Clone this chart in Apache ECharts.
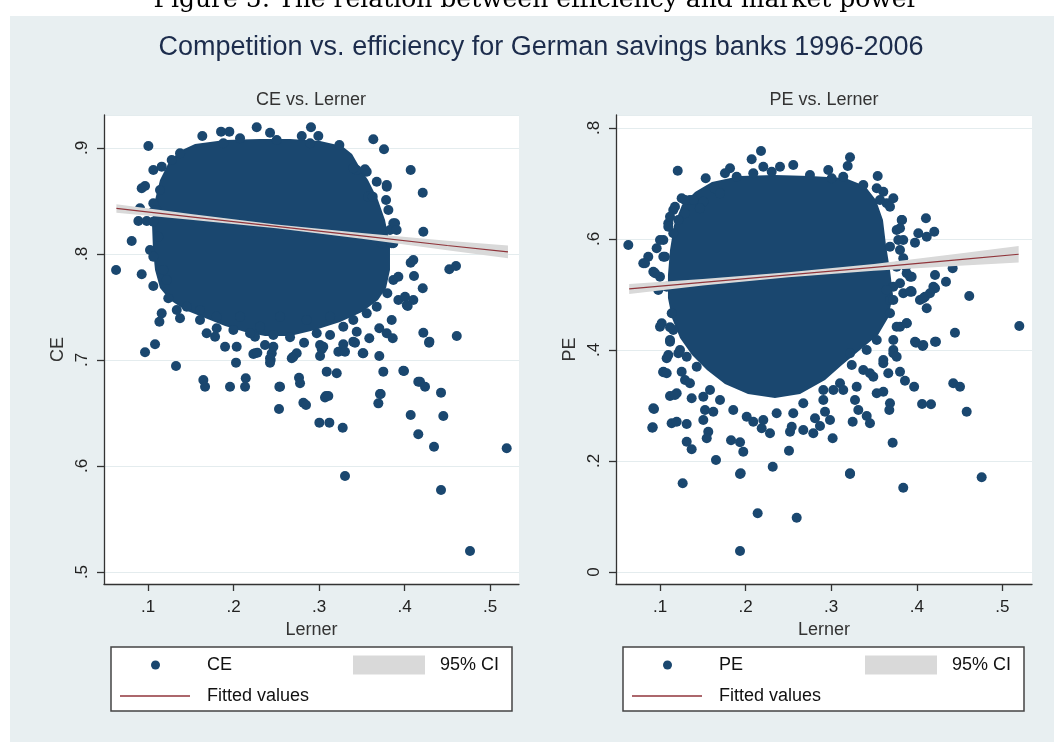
<!DOCTYPE html>
<html>
<head>
<meta charset="utf-8">
<title>Competition vs. efficiency for German savings banks 1996-2006</title>
<script src="https://cdn.jsdelivr.net/npm/echarts@6/dist/echarts.min.js"></script>
<style>
  html, body { margin: 0; padding: 0; background: #fff; }
  #chart { width: 1054px; height: 742px; }
</style>
</head>
<body>
<div id="chart"></div>
<script>
// Lerner index vs. cost efficiency (CE) and profit efficiency (PE)
// outer / sparse points; the solid centre of each cloud is an outline
const cePoints = [
  [0.1004,0.9019],[0.1635,0.9113],[0.1854,0.9154],[0.1951,0.9154],[0.1881,0.9044],[0.2076,0.9091],
  [0.2271,0.9195],[0.2427,0.9144],[0.2505,0.9075],[0.2798,0.9113],[0.2906,0.9195],[0.2992,0.9113],
  [0.2895,0.9044],[0.3238,0.9028],[0.3635,0.9082],[0.3760,0.8988],[0.4072,0.8792],[0.4213,0.8578],
  [0.1062,0.8792],[0.1160,0.8824],[0.0926,0.8620],[0.0965,0.8642],[0.1140,0.8604],[0.0906,0.8431],
  [0.0887,0.8311],[0.0985,0.8311],[0.0809,0.8123],[0.1062,0.8400],[0.1062,0.8305],[0.1062,0.8478],
  [0.1102,0.8415],[0.1120,0.8163],[0.1023,0.8038],[0.1062,0.7975],[0.1179,0.7849],[0.1219,0.7755],
  [0.1277,0.8887],[0.1374,0.8950],
  [0.3441,0.8792],[0.3558,0.8776],[0.3675,0.8682],[0.3792,0.8635],[0.3577,0.8541],[0.3784,0.8509],
  [0.3811,0.8415],[0.3869,0.8290],[0.3830,0.8226],[0.3733,0.8101],[0.3869,0.8101],[0.3792,0.8651],
  [0.3889,0.8290],[0.3908,0.8226],[0.3538,0.8799],[0.3401,0.8808],[0.3628,0.8541],[0.3850,0.8101],
  [0.4220,0.8210],[0.4524,0.7856],[0.4602,0.7887],[0.4213,0.7676],[0.4037,0.7510],[0.4220,0.7257],
  [0.4291,0.7173],[0.4611,0.7226],
  [0.0626,0.7849],[0.0926,0.7808],[0.1062,0.7698],[0.1160,0.7440],[0.1133,0.7361],[0.1082,0.7148],
  [0.0965,0.7073],[0.1327,0.6943],[0.1647,0.6811],[0.1667,0.6748],[0.1959,0.6748],[0.2143,0.6827],
  [0.2135,0.6748],[0.2029,0.6975],[0.2544,0.6748],[0.2766,0.6833],[0.2778,0.6780],[0.3090,0.6890],
  [0.3207,0.6875],[0.3082,0.6660],[0.3752,0.6890],[0.3986,0.6899],[0.3721,0.6679],[0.4161,0.6795],
  [0.4103,0.7943],[0.4072,0.7918],[0.4111,0.7792],[0.3869,0.7755],[0.3928,0.7786],[0.3799,0.7629],
  [0.3928,0.7566],[0.4006,0.7597],[0.4103,0.7566],[0.4026,0.7519],[0.3850,0.7377],[0.3705,0.7299],
  [0.3792,0.7252],[0.3862,0.7205],[0.3588,0.7205],[0.3441,0.7267],[0.3401,0.7173],[0.3518,0.7063],
  [0.3705,0.7038],[0.3284,0.7148],[0.3226,0.7078],[0.3032,0.7101],[0.3012,0.7038],[0.2700,0.7031],
  [0.2739,0.7063],[0.2435,0.7000],[0.2447,0.7063],[0.2251,0.7063],[0.2661,0.7214],[0.2825,0.7163],
  [0.1803,0.7299],[0.1784,0.7220],[0.1901,0.7125],[0.2037,0.7125],[0.1686,0.7252],[0.1608,0.7377],
  [0.1374,0.7393],[0.1237,0.7582],[0.1336,0.7472],[0.2251,0.7220],[0.2193,0.7252],[0.2466,0.7125],
  [0.2368,0.7142],[0.3012,0.7142],[0.3129,0.7236],
  [0.2232,0.7057],[0.2279,0.7069],[0.2427,0.7016],[0.2427,0.6975],[0.2536,0.6748],[0.2532,0.6538],
  [0.2681,0.7016],[0.2817,0.6597],[0.2848,0.6575],[0.3004,0.6409],[0.3121,0.6409],[0.3050,0.7125],
  [0.3070,0.6647],[0.3109,0.6660],[0.3277,0.6361],[0.3304,0.5906],[0.3277,0.7094],[0.3304,0.7078],
  [0.3421,0.7163],[0.3511,0.7063],[0.3694,0.6591],[0.3713,0.6679],[0.3994,0.6896],[0.4072,0.6481],
  [0.4161,0.6299],[0.4181,0.6795],[0.4240,0.6748],[0.4287,0.7163],[0.4345,0.6182],[0.4427,0.6692],
  [0.4427,0.5774],[0.4454,0.6472],[0.4766,0.5198],[0.5195,0.6167],
  [0.2076,0.7408],[0.2310,0.7314],[0.2544,0.7408],[0.2856,0.7377],[0.3129,0.7408],[0.3284,0.7314],
  [0.3401,0.7377],[0.3558,0.7440],[0.3675,0.7503],[0.1453,0.7503],[0.1608,0.7472],[0.1803,0.7408],
  [0.1998,0.7283],[0.2973,0.7252],[0.2466,0.7236]
];
const ceCore = [
  [0.1398,0.8981],[0.1550,0.9038],[0.1901,0.9075],[0.2310,0.9085],[0.2661,0.9085],[0.3012,0.9066],
  [0.3269,0.9019],[0.3386,0.8943],[0.3480,0.8811],[0.3573,0.8698],[0.3690,0.8509],[0.3772,0.8321],
  [0.3830,0.8085],[0.3830,0.7849],[0.3784,0.7679],[0.3690,0.7566],[0.3503,0.7453],[0.3246,0.7358],
  [0.2953,0.7283],[0.2661,0.7226],[0.2368,0.7226],[0.2135,0.7264],[0.1901,0.7321],[0.1667,0.7396],
  [0.1433,0.7472],[0.1257,0.7566],[0.1140,0.7679],[0.1082,0.7849],[0.1058,0.8038],[0.1047,0.8274],
  [0.1082,0.8509],[0.1140,0.8698],[0.1257,0.8887]
];
const ceFitX = [0.063, 0.15, 0.25, 0.35, 0.45, 0.521];
const ceFit  = [0.843, 0.835, 0.826, 0.817, 0.808, 0.802];
const ceLow  = [0.839, 0.8323, 0.8243, 0.8143, 0.8035, 0.796];
const ceHigh = [0.847, 0.8377, 0.8277, 0.8197, 0.8125, 0.808];

const pePoints = [
  [0.2180,0.7586],[0.1207,0.7231],[0.1534,0.7094],[0.2071,0.7436],[0.1818,0.7274],[0.1759,0.7184],
  [0.1634,0.6914],[0.2207,0.7303],[0.2305,0.7213],[0.2402,0.7303],[0.2557,0.7333],[0.2752,0.7153],
  [0.2966,0.7243],[0.3006,0.7094],[0.3220,0.7472],[0.3193,0.7315],[0.3543,0.7135],[0.3609,0.6852],
  [0.3726,0.6733],[0.3827,0.6342],[0.4107,0.6373],[0.4018,0.6103],[0.4116,0.6041],[0.4204,0.6132],
  [0.3765,0.6162],[0.3842,0.5982],[0.3687,0.5862],[0.1896,0.7123],[0.2090,0.7184],[0.3141,0.7123],
  [0.3375,0.6973],[0.3532,0.6914],[0.3648,0.6643],[0.1701,0.6823],[0.1506,0.6672],[0.1350,0.6703],
  [0.1292,0.6463],
  [0.0630,0.5892],[0.0961,0.5832],[0.0863,0.5681],[0.0805,0.5562],[0.0922,0.5411],[0.1000,0.5321],
  [0.1058,0.5681],[0.1097,0.6283],[0.1214,0.6342],[0.1039,0.5982],[0.1155,0.6103],[0.1155,0.6523],
  [0.1253,0.6733],[0.1389,0.6703],[0.1467,0.6553],[0.1175,0.6582],[0.1292,0.6703],[0.1117,0.6402],
  [0.1097,0.6222],[0.1000,0.5982],[0.1039,0.5681],[0.0825,0.5562],[0.0942,0.5382],[0.1078,0.5141],
  [0.0980,0.5081],[0.1137,0.4661],[0.1000,0.4420],[0.1155,0.4360],[0.1117,0.4180],[0.1214,0.3940],
  [0.3940,0.5321],[0.3940,0.5050],[0.4096,0.4960],[0.4213,0.5351],[0.4194,0.5141],[0.3726,0.5141],
  [0.3842,0.5022],[0.3979,0.5934],[0.4419,0.5472],[0.4341,0.5231],[0.4213,0.5112],[0.4154,0.5022],
  [0.3932,0.5063],[0.4613,0.4973],[0.4037,0.4901],[0.4076,0.4932],[0.4116,0.4751],[0.5198,0.4432],
  [0.4446,0.4312],[0.3991,0.4132],[0.4069,0.4072],[0.4224,0.4150],[0.3882,0.4481],[0.3804,0.4420],
  [0.3687,0.4661],[0.3726,0.4000],[0.3874,0.5501],[0.3921,0.5321],[0.3648,0.5081],[0.3687,0.4901],
  [0.3570,0.6703],[0.3687,0.6582],[0.3824,0.6342],[0.3804,0.6193],[0.3784,0.5982],[0.3804,0.5802],
  [0.3842,0.5652],[0.3765,0.5501],[0.3882,0.5382],[0.3804,0.5202],[0.3921,0.5051],[0.3726,0.4901],
  [0.3765,0.4420],[0.3726,0.4180],
  [0.1020,0.4481],[0.1117,0.4409],[0.1117,0.4150],[0.1097,0.3910],[0.1078,0.3850],[0.1039,0.3609],
  [0.0922,0.2950],[0.0915,0.2607],[0.1117,0.3171],[0.1195,0.3220],[0.1136,0.2679],[0.1195,0.2708],
  [0.1312,0.2667],[0.1312,0.2348],[0.1370,0.2211],[0.1370,0.3130],[0.1292,0.3459],[0.1253,0.3609],
  [0.1526,0.2919],[0.1623,0.2889],[0.1506,0.2739],[0.1564,0.2528],[0.1546,0.2409],[0.1654,0.2018],
  [0.1830,0.2373],[0.1935,0.2337],[0.1973,0.2168],[0.1943,0.1778],[0.2317,0.1898],[0.2507,0.2186],
  [0.2285,0.2499],[0.2188,0.2589],[0.2090,0.2708],[0.2519,0.2528],[0.2539,0.2618],[0.2791,0.2499],
  [0.2674,0.2559],[0.2811,0.2769],[0.2928,0.2889],[0.2986,0.2739],[0.2869,0.2631],[0.3017,0.2409],
  [0.3220,0.1778],[0.3251,0.2708],[0.3317,0.2919],[0.3278,0.3099],[0.3415,0.2811],[0.3453,0.2679],
  [0.3492,0.3519],[0.3532,0.3220],[0.3609,0.3249],[0.3667,0.3580],[0.3687,0.3040],[0.3679,0.2919],
  [0.3718,0.2330],[0.3804,0.3609],[0.3862,0.3447],[0.3969,0.3339],[0.4062,0.3027],[0.3979,0.4150],
  [0.4076,0.4090],[0.4213,0.4150],[0.3726,0.3940],[0.3609,0.3820],[0.3532,0.4180],[0.3415,0.4000],
  [0.3882,0.4481],[0.3220,0.3940],[0.3240,0.3730],[0.3375,0.3640],[0.3103,0.3400],
  [0.3025,0.3280],[0.2908,0.3280],
  [0.1265,0.1598],[0.1935,0.1766],[0.2141,0.1058],[0.2597,0.0978],[0.1935,0.0378],[0.3220,0.1766],
  [0.3842,0.1519],[0.4758,0.1706],[0.4583,0.2889],[0.4426,0.3400],[0.4505,0.3339],[0.4166,0.3021],
  [0.0910,0.2600],[0.0930,0.2937],[0.1039,0.3598],[0.1078,0.3580],[0.1175,0.3189],
  [0.1584,0.3279],[0.1701,0.3099],[0.1856,0.2919],[0.2013,0.2798],[0.2207,0.2739],[0.2363,0.2859],
  [0.2557,0.2859],[0.2674,0.3040],[0.2908,0.3099],[0.3141,0.3279],[0.3298,0.3339],[0.3453,0.3580],
  [0.3609,0.3760],[0.3765,0.3879],[0.1429,0.3699],[0.1312,0.3879],[0.1234,0.4000],[0.1350,0.3400],
  [0.1506,0.3159]
];
const peCore = [
  [0.1409,0.6847],[0.1607,0.7027],[0.1935,0.7135],[0.2343,0.7153],[0.2752,0.7135],[0.3161,0.7099],
  [0.3395,0.6955],[0.3523,0.6703],[0.3605,0.6342],[0.3640,0.5892],[0.3687,0.5441],[0.3722,0.4991],
  [0.3664,0.4577],[0.3547,0.4270],[0.3336,0.4000],[0.3126,0.3730],[0.2928,0.3459],[0.2636,0.3207],
  [0.2343,0.3135],[0.2028,0.3207],[0.1759,0.3387],[0.1549,0.3640],[0.1374,0.3910],[0.1234,0.4216],
  [0.1140,0.4577],[0.1093,0.4937],[0.1093,0.5351],[0.1117,0.5802],[0.1164,0.6252],[0.1257,0.6613]
];
const peFitX = [0.064, 0.15, 0.25, 0.35, 0.45, 0.519];
const peFit  = [0.510, 0.522, 0.5355, 0.549, 0.563, 0.5725];
const peLow  = [0.501, 0.516, 0.531, 0.543, 0.552, 0.5575];
const peHigh = [0.519, 0.528, 0.540, 0.555, 0.574, 0.5875];

const FONT = 'Liberation Sans, Arial, sans-serif';
const NAVY = '#1a476f';
const MAROON = '#90353b';
const CI_GRAY = '#d9d9d9';

// Stata style tick labels: .1 .2 ... and 0
function tickFmt(v) {
    if (Math.abs(v) < 1e-9) return '0';
    return String(Math.round(v * 10) / 10).replace(/^0\./, '.');
}

function xAxisOpt(gi, min, max) {
    return {
        type: 'value', gridIndex: gi, min: min, max: max,
        name: 'Lerner', nameLocation: 'middle', nameGap: 31,
        nameTextStyle: { fontFamily: FONT, fontSize: 18, color: '#333' },
        axisLine: { show: true, onZero: false, lineStyle: { color: '#333', width: 1.3 } },
        axisTick: { show: true, length: 7, lineStyle: { color: '#333', width: 1.3 } },
        axisLabel: { fontFamily: FONT, fontSize: 17, color: '#222', margin: 15,
            showMinLabel: false, showMaxLabel: false, formatter: tickFmt },
        splitLine: { show: false }
    };
}

function yAxisOpt(gi, name, min, max) {
    return {
        type: 'value', gridIndex: gi, min: min, max: max,
        name: name, nameLocation: 'middle', nameGap: 37,
        nameTextStyle: { fontFamily: FONT, fontSize: 18, color: '#333' },
        axisLine: { show: true, onZero: false, lineStyle: { color: '#333', width: 1.3 } },
        axisTick: { show: true, length: 7, lineStyle: { color: '#333', width: 1.3 } },
        axisLabel: { fontFamily: FONT, fontSize: 17, color: '#222', margin: 13, rotate: 90,
            showMinLabel: false, showMaxLabel: false, formatter: tickFmt },
        splitLine: { show: true, lineStyle: { color: '#e4ecee', width: 1 } }
    };
}

// dense centre of the cloud, drawn as one filled outline
function coreSeries(name, pts, gi) {
    return {
        type: 'custom', name: name, xAxisIndex: gi, yAxisIndex: gi,
        data: pts, clip: true, silent: true, z: 2,
        itemStyle: { color: NAVY },
        renderItem(params, api) {
            if (params.dataIndex !== 0) return null;
            return {
                type: 'polygon',
                shape: { points: pts.map(p => api.coord(p)) },
                style: { fill: NAVY }
            };
        }
    };
}

function bandSeries(xs, lo, hi, gi) {
    const rows = xs.map((x, i) => [x, lo[i], hi[i]]);
    return {
        type: 'custom', name: '95% CI', xAxisIndex: gi, yAxisIndex: gi,
        data: rows, encode: { x: 0, y: [1, 2] }, clip: true, silent: true, z: 3,
        itemStyle: { color: CI_GRAY },
        renderItem(params, api) {
            if (params.dataIndex !== 0) return null;
            const upper = rows.map(r => api.coord([r[0], r[2]]));
            const lower = rows.map(r => api.coord([r[0], r[1]])).reverse();
            return {
                type: 'polygon',
                shape: { points: upper.concat(lower) },
                style: { fill: CI_GRAY }
            };
        }
    };
}

function fitSeries(xs, ys, gi) {
    return {
        type: 'line', name: 'Fitted values', xAxisIndex: gi, yAxisIndex: gi,
        data: xs.map((x, i) => [x, ys[i]]), symbol: 'none', z: 4,
        lineStyle: { color: MAROON, width: 1.2 }, itemStyle: { color: MAROON }
    };
}

function pointSeries(name, pts, gi) {
    return {
        type: 'scatter', name: name, xAxisIndex: gi, yAxisIndex: gi,
        data: pts, symbol: 'circle', symbolSize: 10, z: 2,
        itemStyle: { color: NAVY, opacity: 1 }
    };
}

const legendText = { fontFamily: FONT, fontSize: 18, color: '#111', lineHeight: 20 };
function legendItem(name, icon, left, top, w, h, gap) {
    return {
        data: [{ name: name, icon: icon }], left: left, top: top, padding: 0, itemGap: 0,
        itemWidth: w, itemHeight: h, selectedMode: false,
        textStyle: Object.assign({ padding: [0, 0, 0, gap] }, legendText)
    };
}

const chart = echarts.init(document.getElementById('chart'));
chart.setOption({
    backgroundColor: '#ffffff',
    animation: false,
    title: [
        { text: 'Competition vs. efficiency for German savings banks 1996-2006',
          left: 541, top: 32, textAlign: 'center', padding: 0,
          textStyle: { fontFamily: FONT, fontSize: 27, fontWeight: 'normal', color: '#1c2c4c', lineHeight: 32 } },
        { text: 'CE vs. Lerner', left: 311, top: 90, textAlign: 'center', padding: 0,
          textStyle: { fontFamily: FONT, fontSize: 18, fontWeight: 'normal', color: '#333', lineHeight: 20 } },
        { text: 'PE vs. Lerner', left: 824, top: 90, textAlign: 'center', padding: 0,
          textStyle: { fontFamily: FONT, fontSize: 18, fontWeight: 'normal', color: '#333', lineHeight: 20 } }
    ],
    graphic: [
        { type: 'rect', z: -10, shape: { x: 10, y: 16, width: 1044, height: 726 },
          style: { fill: '#e8eff1' } },
        { type: 'text', z: -5, x: 536, y: -12,
          style: { text: 'Figure 5: The relation between efficiency and market power',
                   fontFamily: 'DejaVu Serif', fontSize: 25, fill: '#000',
                   textAlign: 'center', textVerticalAlign: 'top', align: 'center', verticalAlign: 'top' } },
        { type: 'rect', z: 1, shape: { x: 111, y: 647, width: 401, height: 64 },
          style: { fill: '#fff', stroke: '#444', lineWidth: 1.5 } },
        { type: 'rect', z: 1, shape: { x: 623, y: 647, width: 401, height: 64 },
          style: { fill: '#fff', stroke: '#444', lineWidth: 1.5 } }
    ],
    legend: [
        legendItem('CE', 'circle', 151, 655, 9, 9, 42),
        legendItem('95% CI', 'rect', 353, 655, 72, 19, 10),
        legendItem('Fitted values', 'rect', 120, 686, 70, 1.4, 12),
        legendItem('PE', 'circle', 663, 655, 9, 9, 42),
        legendItem('95% CI', 'rect', 865, 655, 72, 19, 10),
        legendItem('Fitted values', 'rect', 632, 686, 70, 1.4, 12)
    ],
    grid: [
        { left: 104, top: 115, width: 415, height: 469, show: true, backgroundColor: '#fff', borderWidth: 0 },
        { left: 616, top: 115, width: 416, height: 469, show: true, backgroundColor: '#fff', borderWidth: 0 }
    ],
    xAxis: [
        xAxisOpt(0, 0.0485, 0.5339),
        xAxisOpt(1, 0.0486, 0.5346)
    ],
    yAxis: [
        yAxisOpt(0, 'CE', 0.4887, 0.9311),
        yAxisOpt(1, 'PE', -0.0216, 0.8234)
    ],
    series: [
        pointSeries('CE', cePoints, 0),
        coreSeries('CE', ceCore, 0),
        bandSeries(ceFitX, ceLow, ceHigh, 0),
        fitSeries(ceFitX, ceFit, 0),
        pointSeries('PE', pePoints, 1),
        coreSeries('PE', peCore, 1),
        bandSeries(peFitX, peLow, peHigh, 1),
        fitSeries(peFitX, peFit, 1)
    ]
});
</script>
</body>
</html>
